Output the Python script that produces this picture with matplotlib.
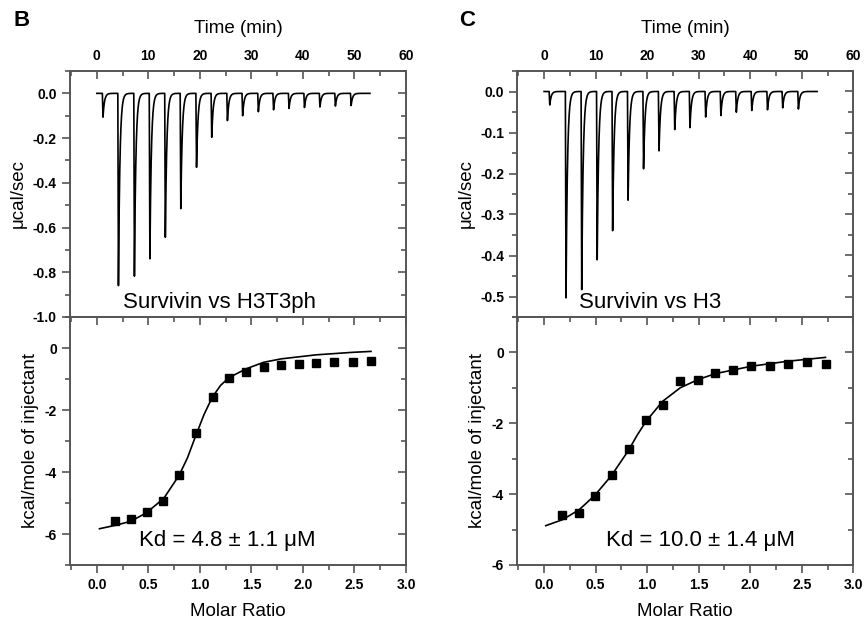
import numpy as np
import matplotlib.pyplot as plt
from matplotlib.ticker import MultipleLocator, NullFormatter

plt.rcParams['font.family'] = ['Liberation Sans', 'DejaVu Sans']

# injection times (min) and peak depths (ucal/sec)
inj_times_b = [1.2, 4.2, 7.3, 10.3, 13.3, 16.3, 19.35, 22.3, 25.35, 28.3,
               31.35, 34.3, 37.3, 40.3, 43.3, 46.3, 49.35]
peak_depth_b = [0.107, 0.862, 0.822, 0.748, 0.654, 0.517, 0.335, 0.198, 0.122,
                0.101, 0.083, 0.074, 0.068, 0.064, 0.061, 0.057, 0.055]

inj_times_c = [1.1, 4.25, 7.3, 10.3, 13.3, 16.3, 19.3, 22.3, 25.35, 28.3,
               31.35, 34.3, 37.3, 40.3, 43.35, 46.3, 49.35]
peak_depth_c = [0.033, 0.510, 0.486, 0.415, 0.345, 0.266, 0.189, 0.146, 0.093,
                0.089, 0.063, 0.059, 0.051, 0.047, 0.045, 0.040, 0.043]

# integrated heats
ratio_b = [0.177, 0.332, 0.484, 0.645, 0.80, 0.961, 1.123, 1.284, 1.452, 1.619,
           1.790, 1.958, 2.129, 2.306, 2.484, 2.661]
heat_b = [-5.57, -5.51, -5.29, -4.93, -4.10, -2.74, -1.59, -0.98, -0.76, -0.62,
          -0.54, -0.51, -0.49, -0.46, -0.45, -0.42]
fit_x_b = [0.026, 0.18, 0.33, 0.48, 0.65, 0.80, 0.88, 0.96, 1.04, 1.12, 1.20,
           1.28, 1.45, 1.62, 1.79, 2.13, 2.48, 2.66]
fit_y_b = [-5.83, -5.72, -5.59, -5.32, -4.85, -4.10, -3.54, -2.83, -2.15, -1.59,
           -1.21, -0.96, -0.67, -0.46, -0.35, -0.22, -0.14, -0.11]

ratio_c = [0.177, 0.339, 0.494, 0.655, 0.819, 0.987, 1.152, 1.323, 1.490, 1.661,
           1.832, 2.006, 2.187, 2.365, 2.548, 2.732]
heat_c = [-4.60, -4.53, -4.04, -3.47, -2.73, -1.92, -1.48, -0.82, -0.79, -0.57,
          -0.50, -0.37, -0.37, -0.33, -0.27, -0.34]
fit_x_c = [0.016, 0.18, 0.34, 0.49, 0.65, 0.82, 0.90, 0.99, 1.15, 1.32, 1.49,
           1.66, 2.01, 2.36, 2.73]
fit_y_c = [-4.89, -4.72, -4.44, -4.04, -3.49, -2.76, -2.35, -1.94, -1.38, -1.00,
           -0.77, -0.60, -0.39, -0.25, -0.14]

GRAY = '#555555'


def thermogram(times, depths, t_end=53.0):
    t = np.linspace(0, t_end, 8000)
    y = np.zeros_like(t)
    for t0, d in zip(times, depths):
        drop = (t >= t0 - 0.12) & (t < t0)
        y[drop] -= d * (t[drop] - (t0 - 0.12)) / 0.12
        rec = t >= t0
        y[rec] -= d * np.exp(-(t[rec] - t0) / 0.28)
    return t, y


def tick_style(ax, direction):
    ax.tick_params(which='both', direction=direction, color=GRAY, width=1.2,
                   labelsize=10)
    ax.tick_params(which='major', length=6)
    ax.tick_params(which='minor', length=3.5)


def inner_ticks(ax, side, major, minor):
    # ticks drawn inside the frame on the right / top side
    if side == 'right':
        sec = ax.secondary_yaxis('right')
        axis = sec.yaxis
    else:
        sec = ax.secondary_xaxis('top')
        axis = sec.xaxis
    axis.set_major_locator(MultipleLocator(major))
    axis.set_minor_locator(MultipleLocator(minor))
    axis.set_major_formatter(NullFormatter())
    sec.spines[side].set_visible(False)
    tick_style(sec, 'in')
    return sec


fig = plt.figure(figsize=(8.65, 6.22), dpi=100)

panels = [
    dict(x0=70 / 865, letter='B', lx=22, times=inj_times_b, depths=peak_depth_b,
         ylim_top=(-1.0, 0.1), ymaj_top=0.2, title='Survivin vs H3T3ph', tx=0.446,
         ratio=ratio_b, heat=heat_b, fx=fit_x_b, fy=fit_y_b, ylim_bot=(-7, 1),
         kd='Kd = 4.8 ± 1.1 μM', kx=0.467),
    dict(x0=517.3 / 865, letter='C', lx=467, times=inj_times_c, depths=peak_depth_c,
         ylim_top=(-0.55, 0.05), ymaj_top=0.1, title='Survivin vs H3', tx=0.395,
         ratio=ratio_c, heat=heat_c, fx=fit_x_c, fy=fit_y_c, ylim_bot=(-6, 1),
         kd='Kd = 10.0 ± 1.4 μM', kx=0.545),
]

w = 336 / 865
y_split = 1 - 317 / 622
y_top = 1 - 71 / 622
y_bot = 1 - 565 / 622

for p in panels:
    ax1 = fig.add_axes([p['x0'], y_split, w, y_top - y_split])
    ax2 = fig.add_axes([p['x0'], y_bot, w, y_split - y_bot])
    for a in (ax1, ax2):
        for s in a.spines.values():
            s.set_linewidth(1.4)
            s.set_color(GRAY)

    # raw thermogram
    t, y = thermogram(p['times'], p['depths'])
    ax1.plot(t, y, color='black', lw=1.2)
    ax1.set_xlim(-5.2, 60)
    ax1.set_ylim(*p['ylim_top'])
    tick_style(ax1, 'out')
    ax1.tick_params(axis='x', which='both', bottom=False, labelbottom=False,
                    top=True, labeltop=True, direction='in', pad=6)
    ax1.xaxis.set_label_position('top')
    ax1.set_xticks(np.arange(0, 61, 10))
    ax1.set_xticklabels([f'{v}' for v in range(0, 61, 10)], fontweight='bold')
    ax1.xaxis.set_minor_locator(MultipleLocator(5))
    step = p['ymaj_top']
    yt = np.round(np.arange(0, p['ylim_top'][0] - 1e-9, -step), 2)
    ax1.set_yticks(yt)
    ax1.set_yticklabels([f'{v:.1f}' if v != 0 else '0.0' for v in yt],
                        fontweight='bold')
    ax1.yaxis.set_minor_locator(MultipleLocator(step / 2))
    ax1.set_xlabel('Time (min)', fontsize=13.5, labelpad=11)
    ax1.set_ylabel('μcal/sec', fontsize=13.5, labelpad=4)
    inner_ticks(ax1, 'right', step, step / 2)
    ax1.text(p['tx'], 0.057, p['title'], transform=ax1.transAxes, ha='center',
             va='center', fontsize=16)

    # integrated heats with fit
    ax2.plot(p['fx'], p['fy'], color='black', lw=1.2)
    ax2.plot(p['ratio'], p['heat'], 's', color='black', ms=5.8)
    ax2.set_xlim(-0.26, 3.0)
    ax2.set_ylim(*p['ylim_bot'])
    tick_style(ax2, 'out')
    xt = np.arange(0, 3.01, 0.5)
    ax2.set_xticks(xt)
    ax2.set_xticklabels([f'{v:.1f}' for v in xt], fontweight='bold')
    ax2.xaxis.set_minor_locator(MultipleLocator(0.25))
    yt2 = np.arange(0, p['ylim_bot'][0] - 0.1, -2)
    ax2.set_yticks(yt2)
    ax2.set_yticklabels([f'{int(v)}' for v in yt2], fontweight='bold')
    ax2.yaxis.set_minor_locator(MultipleLocator(1))
    ax2.set_xlabel('Molar Ratio', fontsize=13.5, labelpad=8)
    ax2.set_ylabel('kcal/mole of injectant', fontsize=13.5, labelpad=4)
    inner_ticks(ax2, 'right', 2, 1)
    inner_ticks(ax2, 'top', 0.5, 0.25)
    ax2.text(p['kx'], 0.097, p['kd'], transform=ax2.transAxes, ha='center',
             va='center', fontsize=16)

    fig.text(p['lx'] / 865, 1 - 20 / 622, p['letter'], fontsize=16,
             fontweight='bold', ha='center', va='center')

fig.savefig('out.png', dpi=100)
